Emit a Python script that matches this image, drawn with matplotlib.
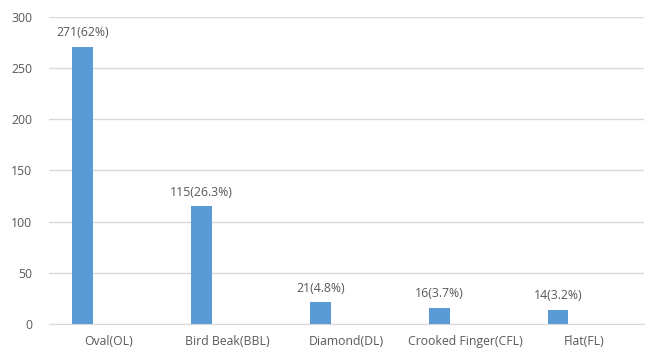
import matplotlib
matplotlib.use("Agg")
import matplotlib.pyplot as plt
import numpy as np

# chart data
categories = ["Oval(OL)", "Bird Beak(BBL)", "Diamond(DL)", "Crooked Finger(CFL)", "Flat(FL)"]
counts = [271, 115, 21, 16, 14]
percents = ["62%", "26.3%", "4.8%", "3.7%", "3.2%"]
y_ticks = [0, 50, 100, 150, 200, 250, 300]

plt.rcParams["font.family"] = ["Open Sans", "DejaVu Sans"]
text_color = "#595959"

fig = plt.figure(figsize=(6.45, 3.51), dpi=100)
ax = fig.add_axes([0.076, 0.077, 0.922, 0.875])

x = np.arange(len(categories))
offset = -0.22
bars = ax.bar(x + offset, counts, width=0.175, color="#5B9BD5", zorder=3)

for xi, c, p in zip(x, counts, percents):
    ax.text(xi + offset, c + 7, "%d(%s)" % (c, p), ha="center", va="bottom",
            fontsize=8.8, color=text_color)

ax.set_xlim(-0.5, len(categories) - 0.5)
ax.set_ylim(0, 300)
ax.set_yticks(y_ticks)
ax.set_xticks(x)
ax.set_xticklabels(categories)
ax.tick_params(axis="both", length=0, labelsize=8.8, labelcolor=text_color)
ax.tick_params(axis="x", pad=8)
ax.tick_params(axis="y", pad=12)
ax.yaxis.grid(True, color="#D9D9D9", linewidth=1, zorder=0)
for side in ["top", "right", "left"]:
    ax.spines[side].set_visible(False)
ax.spines["bottom"].set_color("#D9D9D9")

fig.savefig("out.png", dpi=100)
